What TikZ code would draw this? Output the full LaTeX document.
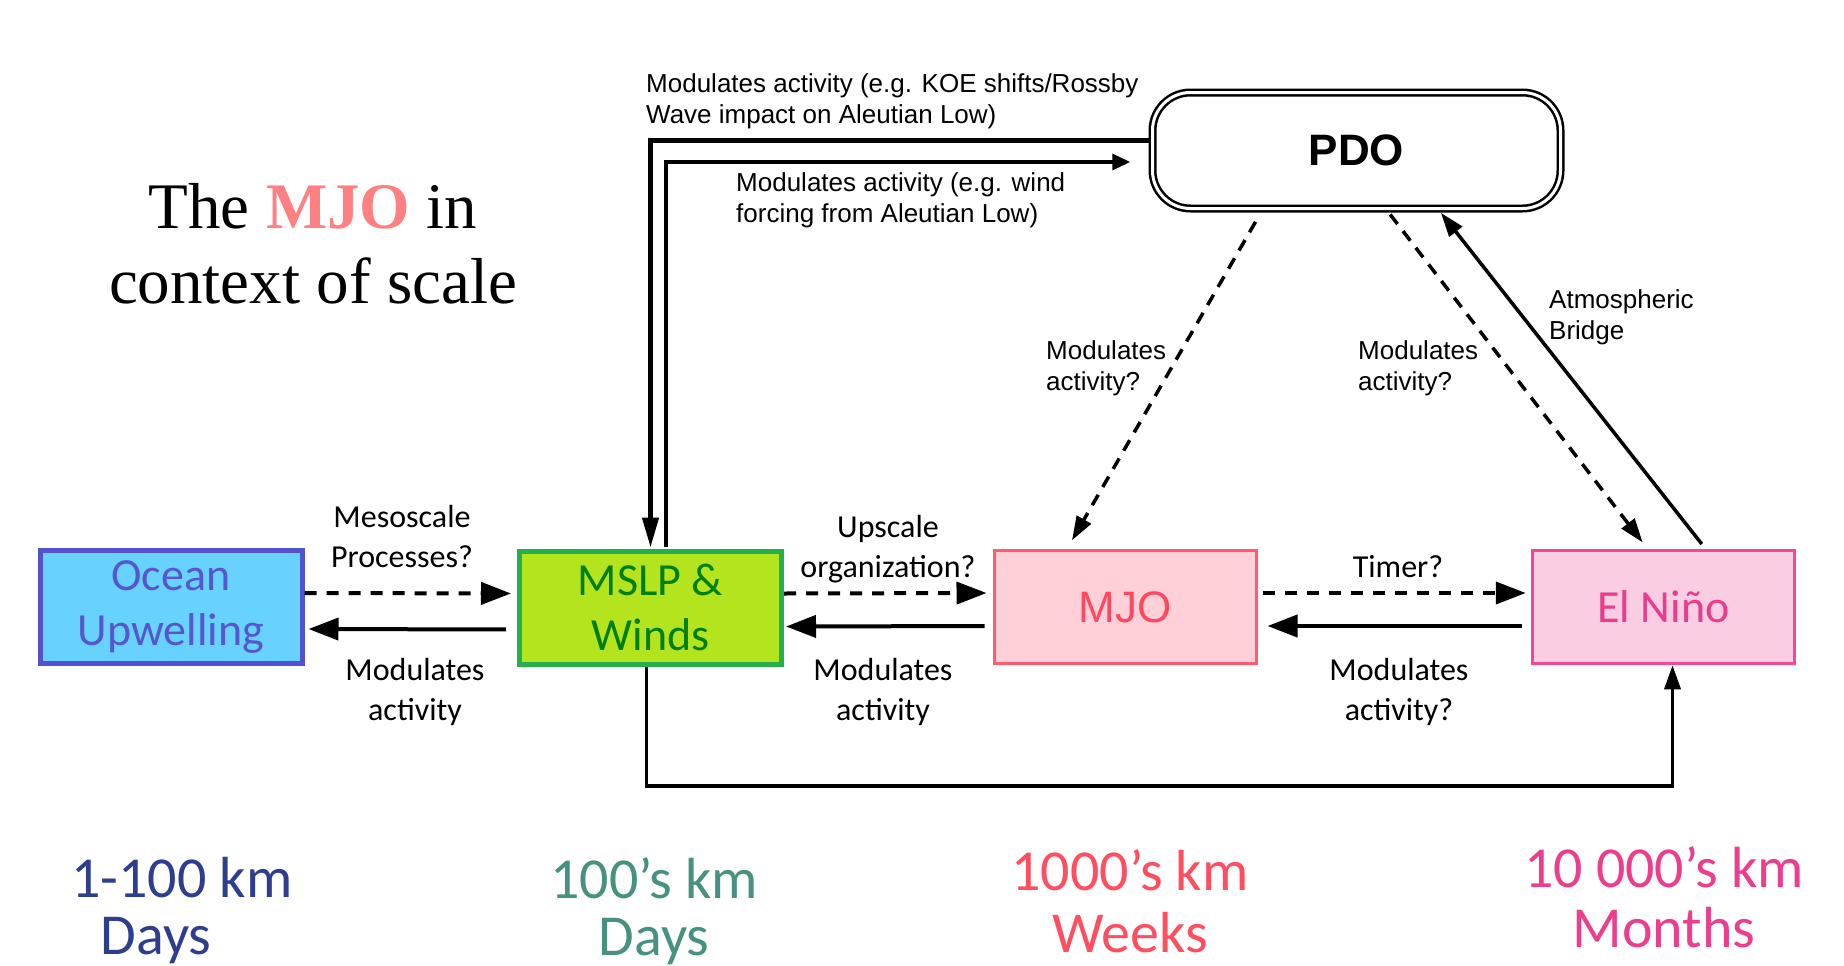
\documentclass[tikz,border=0pt]{standalone}
\usepackage{fontspec}
\setmainfont{Liberation Serif}
\newfontfamily\arialfont{Liberation Sans}
\newfontfamily\calfont{Carlito}
\usetikzlibrary{arrows.meta}

\definecolor{oceanfill}{RGB}{104,210,255}
\definecolor{oceanedge}{RGB}{82,82,208}
\definecolor{oceantext}{RGB}{86,86,206}
\definecolor{mslpfill}{RGB}{180,228,30}
\definecolor{mslpedge}{RGB}{36,176,76}
\definecolor{mslptext}{RGB}{0,128,10}
\definecolor{mjofill}{RGB}{255,208,215}
\definecolor{mjoedge}{RGB}{255,92,112}
\definecolor{mjotext}{RGB}{255,72,96}
\definecolor{ninofill}{RGB}{250,205,226}
\definecolor{ninoedge}{RGB}{242,72,150}
\definecolor{ninotext}{RGB}{234,60,140}
\definecolor{titlered}{RGB}{255,128,128}
\definecolor{kmblue}{RGB}{46,62,142}
\definecolor{kmteal}{RGB}{70,145,128}
\definecolor{kmred}{RGB}{255,78,96}
\definecolor{kmpink}{RGB}{236,62,140}

\tikzset{
    procbox/.style={draw, minimum width=262pt, minimum height=113pt, inner sep=0pt,
        align=center, font=\calfont\fontsize{46}{55}\selectfont},
    oceanbox/.style={procbox, line width=5pt, draw=oceanedge, fill=oceanfill, text=oceantext},
    mslpbox/.style={procbox, line width=5pt, draw=mslpedge, fill=mslpfill, text=mslptext},
    mjobox/.style={procbox, line width=3pt, draw=mjoedge, fill=mjofill, text=mjotext,
        font=\arialfont\fontsize{44}{50}\selectfont},
    ninobox/.style={procbox, line width=3.5pt, draw=ninoedge, fill=ninofill, text=ninotext},
    pdobox/.style={draw, double, double distance=3pt, line width=2.5pt, fill=white,
        rounded corners=38pt, minimum width=408pt, minimum height=116pt,
        font=\arialfont\bfseries\fontsize{44}{50}\selectfont},
    arr/.style={line width=4pt, -{Triangle[length=30pt,width=22pt]}},
    dasharr/.style={arr, dash pattern=on 12pt off 10pt},
    diagarr/.style={line width=3.5pt, -{Triangle[length=24pt,width=16pt]}},
    midlbl/.style={font=\calfont\fontsize{32}{40}\selectfont, align=center, inner sep=0pt, anchor=base},
    toplbl/.style={font=\arialfont\fontsize{26}{31}\selectfont, align=left, inner sep=0pt, anchor=base west},
    scalelbl/.style={font=\calfont\fontsize{58}{62}\selectfont, inner sep=0pt, anchor=base},
}

\begin{document}
\begin{tikzpicture}[x=1pt,y=-1pt]
    \useasboundingbox (0,0) rectangle (1844,966);
    % Title
    \node[font=\fontsize{65}{75}\selectfont, align=center, inner sep=0pt, anchor=base] (title)
        at (313,303) {The \textcolor{titlered}{\textbf{MJO}} in\\context of scale};
    % Boxes
    \node[oceanbox] (ocean) at (171,607) {Ocean\\Upwelling};
    \node[mslpbox] (mslp) at (650.5,607.5) {MSLP \&\\Winds};
    \node[mjobox] (mjo) at (1125,607) {MJO};
    \node[ninobox] (nino) at (1663.5,607) {El Niño};
    \node[pdobox] (pdo) at (1356.5,150.5) {PDO};
    % Horizontal links
    \draw[dasharr, shorten >=6pt] ([yshift=14pt]ocean.east) -- ([yshift=14pt]mslp.west);
    \draw[arr, shorten <=11pt, shorten >=4pt] ([yshift=-22pt]mslp.west) -- ([yshift=-22pt]ocean.east);
    \draw[dasharr, shorten >=6pt] ([yshift=14pt]mslp.east) -- ([yshift=14pt]mjo.west);
    \draw[arr, shorten <=8pt, shorten >=2pt] ([yshift=-19pt]mjo.west) -- ([yshift=-19pt]mslp.east);
    \draw[dasharr, shorten <=5pt, shorten >=5pt] ([yshift=14pt]mjo.east) -- ([yshift=14pt]nino.west);
    \draw[arr, shorten <=9pt, shorten >=10pt] ([yshift=-19pt]nino.west) -- ([yshift=-19pt]mjo.east);
    % Links to and from PDO
    \draw[line width=4.5pt, -{Triangle[length=30pt,width=16pt]}, shorten >=1pt]
        ([yshift=10pt]pdo.west) -| (mslp.north);
    \draw[line width=3.5pt, -{Triangle[length=18pt,width=16pt]}, shorten <=2pt]
        ([xshift=15.5pt]mslp.north) |- ([xshift=-21pt,yshift=-11.5pt]pdo.west);
    \draw[diagarr, dash pattern=on 12pt off 9pt, shorten <=14pt, shorten >=10pt]
        ([xshift=-94pt]pdo.south) -- ([xshift=-58pt]mjo.north);
    \draw[diagarr, dash pattern=on 12pt off 9pt, shorten <=6pt, shorten >=8pt]
        ([xshift=30pt]pdo.south) -- ([xshift=-16pt]nino.north);
    \draw[diagarr, shorten <=6pt, shorten >=4pt]
        ([xshift=42pt]nino.north) -- ([xshift=82pt]pdo.south);
    % Bottom link
    \coordinate (lowrail) at (1000,786);
    \draw[line width=3.5pt, -{Triangle[length=24pt,width=16pt]}]
        ([xshift=-4pt]mslp.south) |- (lowrail) -| ([xshift=9pt]nino.south);
    % Labels
    \node[midlbl] (mesolbl) at (402,567) {Mesoscale\\Processes?};
    \node[midlbl] (oceanmodlbl) at (415,720) {Modulates\\activity};
    \node[midlbl] (upscalelbl) at (888,577) {Upscale\\organization?};
    \node[midlbl] (mjomodlbl) at (883,720) {Modulates\\activity};
    \node[midlbl] (timerlbl) at (1398,577) {Timer?};
    \node[midlbl] (ninomodlbl) at (1399,720) {Modulates\\activity?};
    \node[toplbl] (koelbl) at (646,123) {Modulates activity (e.g. KOE shifts/Rossby\\Wave impact on Aleutian Low)};
    \node[toplbl] (windlbl) at (736,222) {Modulates activity (e.g. wind\\forcing from Aleutian Low)};
    \node[toplbl] (pdomjolbl) at (1046,390) {Modulates\\activity?};
    \node[toplbl] (pdoninolbl) at (1358,390) {Modulates\\activity?};
    \node[toplbl] (bridgelbl) at (1549,339) {Atmospheric\\Bridge};
    % Scales
    \node[scalelbl, text=kmblue] (kmone) at (182,897) {1-100 km};
    \node[scalelbl, text=kmblue] (timeone) at (156,954) {Days};
    \node[scalelbl, text=kmteal] (kmtwo) at (654,898) {100’s km};
    \node[scalelbl, text=kmteal] (timetwo) at (654,955) {Days};
    \node[scalelbl, text=kmred] (kmthree) at (1130,890) {1000’s km};
    \node[scalelbl, text=kmred] (timethree) at (1130,952) {Weeks};
    \node[scalelbl, text=kmpink] (kmfour) at (1664,887) {10 000’s km};
    \node[scalelbl, text=kmpink] (timefour) at (1664,947) {Months};
\end{tikzpicture}
\end{document}
